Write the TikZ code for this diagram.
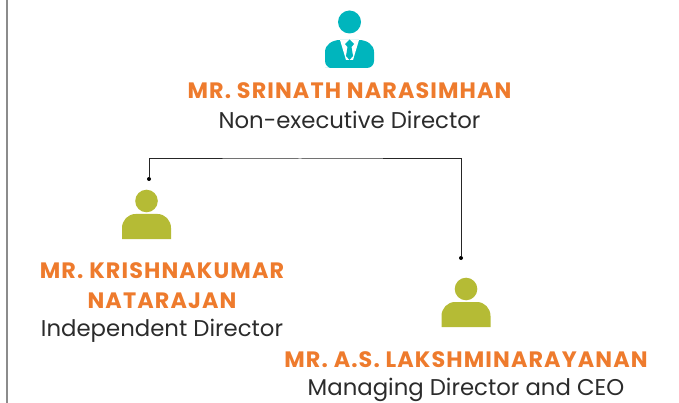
\documentclass[tikz,border=0pt]{standalone}
\usepackage{fontspec}
\setmainfont{Poppins}
\newfontfamily\namefont[LetterSpace=5]{Poppins}
\usepackage{tikz}
\usetikzlibrary{calc}
\definecolor{nameorange}{HTML}{EE7B2D}
\definecolor{iconolive}{HTML}{B5BB35}
\definecolor{iconteal}{HTML}{00B5BD}
\definecolor{roletext}{HTML}{2B2B2B}
\tikzset{
  personicon/.pic={
    \fill (0,-38) circle (11.3);
    \fill (-24.5,0) -- (-24.5,-11) to[out=90,in=180] (-11,-25) -- (11,-25)
       to[out=0,in=90] (24.5,-11) -- (24.5,0) -- cycle;
  },
  nametext/.style={text=nameorange, font=\fontsize{22.3}{30}\namefont\bfseries, align=center, inner sep=0pt},
  roletext/.style={text=roletext, font=\fontsize{22.8}{30}\selectfont, align=center, inner sep=0pt},
  enddot/.style={circle, fill=black, inner sep=0pt, minimum size=4pt},
  linkline/.style={draw=black!85, line width=1pt}
}
\begin{document}
\begin{tikzpicture}[x=1pt,y=-1pt]
\useasboundingbox (0,0) rectangle (679,403);
\draw[black!45, line width=1.5pt] (7,0) -- (7,403);
% teal icon
\fill[iconteal] (349.5,22) circle (11.5);
\fill[iconteal] (325,68) -- (332,68) to[out=180,in=-90] (325,61) -- (325,52)
    to[out=90,in=180] (340,40) -- (359,40) to[out=0,in=90] (374,52) -- (374,61)
    to[out=-90,in=0] (367,68) -- cycle;
\fill[white] (340,40) -- (346,60) -- (353,60) -- (359,40) -- cycle;
\fill[iconteal] (349.5,39.5) -- (354,44) -- (351.5,47) -- (353,56) -- (349.5,60)
    -- (346,56) -- (347.5,47) -- (345,44) -- cycle;
% olive icons
\path[fill=iconolive] (146.5,239) pic {personicon};
\path[fill=iconolive] (466,327) pic {personicon};
% labels
\node[nametext] (srinath) at (349.5,91) {MR. SRINATH NARASIMHAN};
\node[roletext] (srinathrole) at (349.5,120) {Non-executive Director};
\node[nametext] (krishna) at (162,270.5) {MR. KRISHNAKUMAR};
\node[nametext] (krishnb) at (162,300.5) {NATARAJAN};
\node[roletext] (krishnarole) at (162,330.5) {Independent Director};
\node[nametext] (lakshmi) at (466,359.5) {MR. A.S. LAKSHMINARAYANAN};
\node[roletext] (lakshmirole) at (466,390) {Managing Director and CEO};
% connector
\node[enddot] (dotleft) at (149,179) {};
\node[enddot] (dotright) at (461,258) {};
\coordinate (topline) at (300,159);
\draw[linkline] (dotleft) |- (topline) -| (dotright);
\end{tikzpicture}
\end{document}
